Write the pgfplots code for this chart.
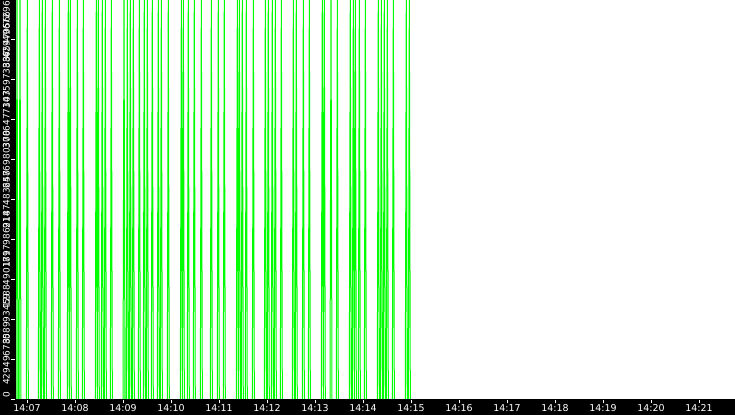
\documentclass[border=0pt]{standalone}
\usepackage{fontspec}
\setmainfont{DejaVu Sans}
\usepackage{pgfplots}
\usepackage{pgfplotstable}
\pgfplotsset{compat=1.18}
\definecolor{lime}{RGB}{0,255,0}

% time in seconds after 14:00, value of the counter (0 or 2^32-1)
\pgfplotstableread[row sep=\\]{
t v \\
406.25 0 \\ 407.5 4294967295 \\ 408.75 0 \\ nan nan \\
410.0 0 \\ 411.25 4294967295 \\ 412.5 0 \\ nan nan \\
419.15 0 \\ 420.4 4294967295 \\ 421.65 0 \\ nan nan \\
434.15 0 \\ 435.4 4294967295 \\ 436.65 0 \\ nan nan \\
437.85 0 \\ 439.1 4294967295 \\ 440.35 0 \\ nan nan \\
441.65 0 \\ 442.9 4294967295 \\ 444.15 0 \\ nan nan \\
450.35 0 \\ 451.6 4294967295 \\ 452.85 0 \\ nan nan \\
459.15 0 \\ 460.4 4294967295 \\ 461.65 0 \\ nan nan \\
470.35 0 \\ 471.6 4294967295 \\ 472.85 0 \\ nan nan \\
472.85 0 \\ 474.1 4294967295 \\ 475.35 0 \\ nan nan \\
481.65 0 \\ 482.9 4294967295 \\ 484.15 0 \\ nan nan \\
489.15 0 \\ 490.4 4294967295 \\ 491.65 0 \\ nan nan \\
505.35 0 \\ 506.6 4294967295 \\ 507.85 0 \\ nan nan \\
507.85 0 \\ 509.1 4294967295 \\ 510.35 0 \\ nan nan \\
512.85 0 \\ 514.1 4294967295 \\ 515.35 0 \\ nan nan \\
516.65 0 \\ 517.9 4294967295 \\ 519.15 0 \\ nan nan \\
524.15 0 \\ 525.4 4294967295 \\ 526.65 0 \\ nan nan \\
540.0 0 \\ 541.25 4294967295 \\ 542.5 0 \\ nan nan \\
544.15 0 \\ 545.4 4294967295 \\ 546.65 0 \\ nan nan \\
547.85 0 \\ 549.1 4294967295 \\ 550.35 0 \\ nan nan \\
551.65 0 \\ 552.9 4294967295 \\ 554.15 0 \\ nan nan \\
559.15 0 \\ 560.4 4294967295 \\ 561.65 0 \\ nan nan \\
565.35 0 \\ 566.6 4294967295 \\ 567.85 0 \\ nan nan \\
569.15 0 \\ 570.4 4294967295 \\ 571.65 0 \\ nan nan \\
575.35 0 \\ 576.6 4294967295 \\ 577.85 0 \\ nan nan \\
582.85 0 \\ 584.1 4294967295 \\ 585.35 0 \\ nan nan \\
586.65 0 \\ 587.9 4294967295 \\ 589.15 0 \\ nan nan \\
595.35 0 \\ 596.6 4294967295 \\ 597.85 0 \\ nan nan \\
611.65 0 \\ 612.9 4294967295 \\ 614.15 0 \\ nan nan \\
614.15 0 \\ 615.4 4294967295 \\ 616.65 0 \\ nan nan \\
620.35 0 \\ 621.6 4294967295 \\ 622.85 0 \\ nan nan \\
627.85 0 \\ 629.1 4294967295 \\ 630.35 0 \\ nan nan \\
636.65 0 \\ 637.9 4294967295 \\ 639.15 0 \\ nan nan \\
649.15 0 \\ 650.4 4294967295 \\ 651.65 0 \\ nan nan \\
657.85 0 \\ 659.1 4294967295 \\ 660.35 0 \\ nan nan \\
665.35 0 \\ 666.6 4294967295 \\ 667.85 0 \\ nan nan \\
681.65 0 \\ 682.9 4294967295 \\ 684.15 0 \\ nan nan \\
684.15 0 \\ 685.4 4294967295 \\ 686.65 0 \\ nan nan \\
687.85 0 \\ 689.1 4294967295 \\ 690.35 0 \\ nan nan \\
692.85 0 \\ 694.1 4294967295 \\ 695.35 0 \\ nan nan \\
701.65 0 \\ 702.9 4294967295 \\ 704.15 0 \\ nan nan \\
716.65 0 \\ 717.9 4294967295 \\ 719.15 0 \\ nan nan \\
720.35 0 \\ 721.6 4294967295 \\ 722.85 0 \\ nan nan \\
725.35 0 \\ 726.6 4294967295 \\ 727.85 0 \\ nan nan \\
729.15 0 \\ 730.4 4294967295 \\ 731.65 0 \\ nan nan \\
736.65 0 \\ 737.9 4294967295 \\ 739.15 0 \\ nan nan \\
751.65 0 \\ 752.9 4294967295 \\ 754.15 0 \\ nan nan \\
755.35 0 \\ 756.6 4294967295 \\ 757.85 0 \\ nan nan \\
764.15 0 \\ 765.4 4294967295 \\ 766.65 0 \\ nan nan \\
771.65 0 \\ 772.9 4294967295 \\ 774.15 0 \\ nan nan \\
787.85 0 \\ 789.1 4294967295 \\ 790.35 0 \\ nan nan \\
790.35 0 \\ 791.6 4294967295 \\ 792.85 0 \\ nan nan \\
798.75 0 \\ 800.0 4294967295 \\ 801.25 0 \\ nan nan \\
806.65 0 \\ 807.9 4294967295 \\ 809.15 0 \\ nan nan \\
822.85 0 \\ 824.1 4294967295 \\ 825.35 0 \\ nan nan \\
826.65 0 \\ 827.9 4294967295 \\ 829.15 0 \\ nan nan \\
829.15 0 \\ 830.4 4294967295 \\ 831.65 0 \\ nan nan \\
834.15 0 \\ 835.4 4294967295 \\ 836.65 0 \\ nan nan \\
841.65 0 \\ 842.9 4294967295 \\ 844.15 0 \\ nan nan \\
857.85 0 \\ 859.1 4294967295 \\ 860.35 0 \\ nan nan \\
861.65 0 \\ 862.9 4294967295 \\ 864.15 0 \\ nan nan \\
865.35 0 \\ 866.6 4294967295 \\ 867.85 0 \\ nan nan \\
869.15 0 \\ 870.4 4294967295 \\ 871.65 0 \\ nan nan \\
876.65 0 \\ 877.9 4294967295 \\ 879.15 0 \\ nan nan \\
892.85 0 \\ 894.1 4294967295 \\ 895.35 0 \\ nan nan \\
896.65 0 \\ 897.9 4294967295 \\ 899.15 0 \\ nan nan \\
}\spikes

\begin{document}
\begin{tikzpicture}
% black frame strips under the axes
\fill[black] (-15bp,-16bp) rectangle (720bp,0bp);
\fill[black] (-15bp,0bp) rectangle (0bp,399bp);
\begin{axis}[
    at={(0bp,0bp)}, anchor=south west,
    scale only axis,
    width=720bp, height=399bp,
    xmin=405, xmax=1305,
    ymin=0, ymax=4294967296,
    axis x line*=bottom, axis y line*=left,
    axis line style={black},
    tick align=outside,
    major tick length=4bp,
    tick style={white, line width=1bp},
    xtick={420,480,540,600,660,720,780,840,900,960,1020,1080,1140,1200,1260},
    xticklabels={14:07,14:08,14:09,14:10,14:11,14:12,14:13,14:14,14:15,14:16,14:17,14:18,14:19,14:20,14:21},
    xticklabel style={white, font=\fontsize{9.5}{9.5}\selectfont, inner sep=1bp},
    ytick={429496729.6,858993459.2,1288490188.8,1717986918.4,2147483648,2576980377.6,3006477107.2,3435973836.8,3865470566.4},
    yticklabels={429496730,858993459,1288490189,1717986918,2147483648,2576980378,3006477107,3435973837,3865470566},
    yticklabel style={white, rotate=90, anchor=south, inner sep=1bp, font=\fontsize{9}{9}\selectfont},
    % end labels kept inside the strip
    extra y ticks={0},
    extra y tick labels={0},
    extra y tick style={yticklabel style={anchor=south west}},
    unbounded coords=jump,
]
\addplot[lime, line width=1bp, mark=none] table[x=t, y=v] {\spikes};
\end{axis}
\begin{axis}[
    at={(0bp,0bp)}, anchor=south west,
    scale only axis,
    width=720bp, height=399bp,
    xmin=405, xmax=1305,
    ymin=0, ymax=4294967296,
    axis x line=none, axis y line*=left,
    axis line style={black},
    tick align=outside,
    major tick length=4bp,
    tick style={white, line width=1bp},
    ytick={4294967296},
    yticklabels={4294967296},
    yticklabel style={white, rotate=90, anchor=south east, inner sep=1bp, font=\fontsize{9}{9}\selectfont},
]
\end{axis}
\pgfresetboundingbox
\path (-15bp,-16bp) rectangle (720bp,399bp);
\end{tikzpicture}
\end{document}
